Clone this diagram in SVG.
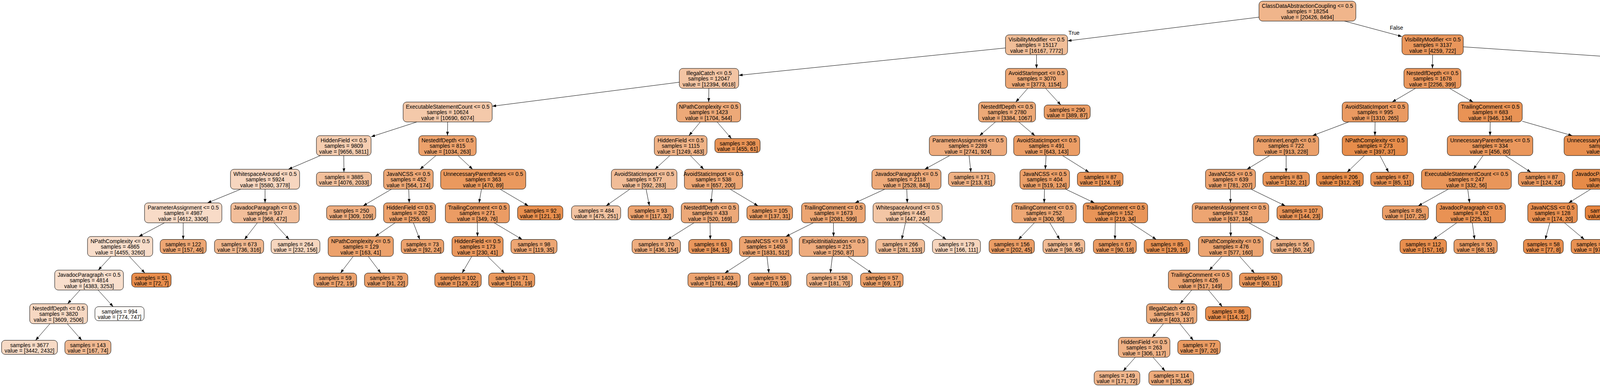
<svg xmlns="http://www.w3.org/2000/svg" width="6025" height="990" viewBox="0 0 6025 990">
<defs>
<marker id="arr" markerWidth="10" markerHeight="7" refX="10" refY="3.5" orient="auto" markerUnits="userSpaceOnUse"><path d="M0,0 L10,3.5 L0,7 z" fill="#000"/></marker>
</defs>
<style>
.nd rect{stroke:#000;stroke-width:1}
text{font-family:"Liberation Sans",Arial,Helvetica,sans-serif;font-size:14px;text-anchor:middle;fill:#000}
#edges line{stroke:#000;stroke-width:1;marker-end:url(#arr)}
</style>
<rect width="6025" height="990" fill="#fff"/>
<g id="edges">
<line x1="3223" y1="43.9" x2="2733" y2="104.6"/>
<line x1="3442" y1="54" x2="3589" y2="93.4"/>
<line x1="2574" y1="122.7" x2="1891" y2="192.7"/>
<line x1="2653.5" y1="140" x2="2653.5" y2="175"/>
<line x1="3667.5" y1="140" x2="3667" y2="175"/>
<line x1="3746" y1="119.8" x2="4827" y2="193.1"/>
<line x1="1739" y1="210.3" x2="1260" y2="271.8"/>
<line x1="1814.7" y1="226" x2="1814.3" y2="261"/>
<line x1="2631.1" y1="226" x2="2600.4" y2="261"/>
<line x1="2676.8" y1="226" x2="2715.6" y2="268.5"/>
<line x1="3623.6" y1="226" x2="3563.9" y2="261"/>
<line x1="3710.9" y1="226" x2="3771.1" y2="261"/>
<line x1="4936" y1="226" x2="4936" y2="261"/>
<line x1="5045" y1="218.5" x2="5367" y2="271.9"/>
<line x1="1067.1" y1="312" x2="950" y2="349.9"/>
<line x1="1146" y1="312" x2="1145.5" y2="347"/>
<line x1="1792.8" y1="312" x2="1763.7" y2="347"/>
<line x1="1835.9" y1="312" x2="1872.5" y2="354.5"/>
<line x1="2548.4" y1="312" x2="2507.7" y2="347"/>
<line x1="2608.1" y1="312" x2="2649.4" y2="347"/>
<line x1="3452.9" y1="312" x2="3360.1" y2="347"/>
<line x1="3520.2" y1="312" x2="3519.8" y2="347"/>
<line x1="3815" y1="312" x2="3814.5" y2="347"/>
<line x1="3897" y1="310.1" x2="4025" y2="347"/>
<line x1="4900.6" y1="312" x2="4851.9" y2="347"/>
<line x1="4971.4" y1="312" x2="5020.1" y2="347"/>
<line x1="5455.5" y1="312" x2="5455.5" y2="347"/>
<line x1="5531.1" y1="312" x2="5634.9" y2="347"/>
<line x1="820.3" y1="398" x2="738.2" y2="433"/>
<line x1="880" y1="398" x2="880.5" y2="440.5"/>
<line x1="1115.9" y1="398" x2="1075.2" y2="433"/>
<line x1="1172.6" y1="398" x2="1209.9" y2="433"/>
<line x1="1714.8" y1="398" x2="1676.7" y2="433"/>
<line x1="1767.4" y1="398" x2="1801.6" y2="433"/>
<line x1="2431.3" y1="398" x2="2367.2" y2="433"/>
<line x1="2480.8" y1="398" x2="2485.5" y2="440.5"/>
<line x1="2678" y1="398" x2="2676" y2="433"/>
<line x1="2720.1" y1="398" x2="2787.8" y2="440.5"/>
<line x1="3250.2" y1="398" x2="3192.3" y2="433"/>
<line x1="3292.5" y1="398" x2="3292.5" y2="440.5"/>
<line x1="3493" y1="398" x2="3448.7" y2="440.5"/>
<line x1="3532.7" y1="398" x2="3554.7" y2="440.5"/>
<line x1="3796.6" y1="398" x2="3771.9" y2="433"/>
<line x1="3853.6" y1="398" x2="3918.9" y2="440.5"/>
<line x1="4113.5" y1="398" x2="4113.5" y2="433"/>
<line x1="4171.5" y1="398" x2="4251" y2="433"/>
<line x1="4774.4" y1="398" x2="4716.6" y2="433"/>
<line x1="4822.4" y1="398" x2="4832.3" y2="440.5"/>
<line x1="5049.6" y1="398" x2="5041.4" y2="433"/>
<line x1="5104.7" y1="398" x2="5172.3" y2="433"/>
<line x1="5435.9" y1="398" x2="5403.3" y2="440.5"/>
<line x1="5484" y1="398" x2="5523" y2="433"/>
<line x1="5710.6" y1="398" x2="5711" y2="440.5"/>
<line x1="5752" y1="398" x2="5809" y2="433"/>
<line x1="616.4" y1="484" x2="531.1" y2="519"/>
<line x1="678.5" y1="484" x2="678.5" y2="519"/>
<line x1="1002.1" y1="484" x2="929.7" y2="526.5"/>
<line x1="1046.4" y1="484" x2="1047.6" y2="519"/>
<line x1="1232.6" y1="484" x2="1226.4" y2="519"/>
<line x1="1280.3" y1="484" x2="1352.4" y2="526.5"/>
<line x1="1612.5" y1="484" x2="1551.7" y2="526.5"/>
<line x1="1654" y1="484" x2="1662.4" y2="526.5"/>
<line x1="1823.8" y1="484" x2="1820.2" y2="519"/>
<line x1="1869.2" y1="484" x2="1940.4" y2="526.5"/>
<line x1="2265.1" y1="484" x2="2188.9" y2="519"/>
<line x1="2321.4" y1="484" x2="2322.6" y2="519"/>
<line x1="2673.9" y1="484" x2="2673.1" y2="519"/>
<line x1="2728.2" y1="484" x2="2801.8" y2="519"/>
<line x1="3150" y1="484" x2="3150" y2="519"/>
<line x1="3202.6" y1="484" x2="3290.3" y2="526.5"/>
<line x1="3707.7" y1="484" x2="3630.7" y2="526.5"/>
<line x1="3757.4" y1="484" x2="3762.1" y2="519"/>
<line x1="4072.3" y1="484" x2="4015.7" y2="519"/>
<line x1="4113.4" y1="484" x2="4113.1" y2="526.5"/>
<line x1="4290.8" y1="484" x2="4260.4" y2="526.5"/>
<line x1="4330.5" y1="484" x2="4366.3" y2="526.5"/>
<line x1="4643.7" y1="484" x2="4601.3" y2="519"/>
<line x1="4709.6" y1="484" x2="4757.9" y2="519"/>
<line x1="5013" y1="484" x2="4975.4" y2="526.5"/>
<line x1="5051.5" y1="484" x2="5078.2" y2="526.5"/>
<line x1="5219.7" y1="484" x2="5216.8" y2="526.5"/>
<line x1="5268.1" y1="484" x2="5331.9" y2="519"/>
<line x1="5551.4" y1="484" x2="5551.1" y2="519"/>
<line x1="5592.1" y1="484" x2="5659.8" y2="526.5"/>
<line x1="5844.6" y1="484" x2="5834.7" y2="526.5"/>
<line x1="5883.1" y1="484" x2="5937.5" y2="526.5"/>
<line x1="421.1" y1="570" x2="355.4" y2="605"/>
<line x1="469" y1="570" x2="469" y2="612.5"/>
<line x1="658.8" y1="570" x2="625.9" y2="612.5"/>
<line x1="701.6" y1="570" x2="740.2" y2="612.5"/>
<line x1="1011.4" y1="570" x2="960.6" y2="605"/>
<line x1="1058.3" y1="570" x2="1074.6" y2="612.5"/>
<line x1="1222.1" y1="570" x2="1222.4" y2="605"/>
<line x1="1265" y1="570" x2="1336.7" y2="612.5"/>
<line x1="1776.7" y1="570" x2="1708.8" y2="612.5"/>
<line x1="1817.8" y1="570" x2="1818.3" y2="612.5"/>
<line x1="2082.2" y1="570" x2="2011.8" y2="605"/>
<line x1="2133.6" y1="570" x2="2133.9" y2="605"/>
<line x1="2317.9" y1="570" x2="2308.5" y2="612.5"/>
<line x1="2360.6" y1="570" x2="2422.3" y2="612.5"/>
<line x1="2648" y1="570" x2="2607.3" y2="612.5"/>
<line x1="2687.6" y1="570" x2="2712.8" y2="612.5"/>
<line x1="2855.1" y1="570" x2="2854.3" y2="612.5"/>
<line x1="2894.6" y1="570" x2="2959.9" y2="612.5"/>
<line x1="3150.3" y1="570" x2="3150.7" y2="605"/>
<line x1="3197" y1="570" x2="3275.3" y2="612.5"/>
<line x1="3729.3" y1="570" x2="3669" y2="612.5"/>
<line x1="3769.1" y1="570" x2="3775" y2="612.5"/>
<line x1="3967.5" y1="570" x2="3955.9" y2="612.5"/>
<line x1="4005" y1="570" x2="4055.9" y2="612.5"/>
<line x1="4538.8" y1="570" x2="4485.9" y2="612.5"/>
<line x1="4577.2" y1="570" x2="4588.3" y2="612.5"/>
<line x1="4779.2" y1="570" x2="4756.2" y2="612.5"/>
<line x1="4818.8" y1="570" x2="4861.8" y2="612.5"/>
<line x1="5342" y1="570" x2="5281.2" y2="612.5"/>
<line x1="5381.8" y1="570" x2="5387.2" y2="612.5"/>
<line x1="5547.9" y1="570" x2="5542.7" y2="612.5"/>
<line x1="5587.6" y1="570" x2="5648.7" y2="612.5"/>
<line x1="283.9" y1="656" x2="251.6" y2="691"/>
<line x1="331.2" y1="656" x2="370.8" y2="698.5"/>
<line x1="904.1" y1="656" x2="871.7" y2="698.5"/>
<line x1="942.8" y1="656" x2="974.9" y2="698.5"/>
<line x1="1207.7" y1="656" x2="1183" y2="698.5"/>
<line x1="1248.4" y1="656" x2="1291.7" y2="698.5"/>
<line x1="1921.2" y1="656" x2="1855.7" y2="698.5"/>
<line x1="1963.5" y1="656" x2="1968.4" y2="698.5"/>
<line x1="2130.9" y1="656" x2="2125.7" y2="698.5"/>
<line x1="2170.6" y1="656" x2="2231.7" y2="698.5"/>
<line x1="3127.7" y1="656" x2="3095.8" y2="691"/>
<line x1="3173.7" y1="656" x2="3211.5" y2="698.5"/>
<line x1="204.9" y1="742" x2="173.1" y2="777"/>
<line x1="251.1" y1="742" x2="289.7" y2="784.5"/>
<line x1="3050.9" y1="742" x2="3021.1" y2="777"/>
<line x1="3093.7" y1="742" x2="3129" y2="784.5"/>
<line x1="127.9" y1="828" x2="91.1" y2="870.5"/>
<line x1="172.2" y1="828" x2="209.3" y2="870.5"/>
<line x1="2978.6" y1="828" x2="2949.9" y2="863"/>
<line x1="3020.3" y1="828" x2="3054.8" y2="870.5"/>
<line x1="2906.4" y1="914" x2="2875.4" y2="949"/>
<line x1="2951.6" y1="914" x2="2982.6" y2="949"/>
<text x="2749.5" y="89">True</text>
<text x="3575" y="76">False</text>
</g>
<g id="n0" class="nd" transform="translate(3347,28.5)"><rect x="-124" y="-25.5" width="248" height="51" rx="9" fill="#f0b58b"/><text><tspan x="0" y="-8.5">ClassDataAbstractionCoupling &lt;= 0.5</tspan><tspan x="0" y="5.8">samples = 18254</tspan><tspan x="0" y="20">value = [20426, 8494]</tspan></text></g>
<g id="n1" class="nd" transform="translate(2653.5,114.5)"><rect x="-79.5" y="-25.5" width="159" height="51" rx="9" fill="#f1be98"/><text><tspan x="0" y="-8.5">VisibilityModifier &lt;= 0.5</tspan><tspan x="0" y="5.8">samples = 15117</tspan><tspan x="0" y="20">value = [16167, 7772]</tspan></text></g>
<g id="n2" class="nd" transform="translate(3667.5,114.5)"><rect x="-78.5" y="-25.5" width="157" height="51" rx="9" fill="#e9965b"/><text><tspan x="0" y="-8.5">VisibilityModifier &lt;= 0.5</tspan><tspan x="0" y="5.8">samples = 3137</tspan><tspan x="0" y="20">value = [4259, 722]</tspan></text></g>
<g id="n3" class="nd" transform="translate(1815,200.5)"><rect x="-76" y="-25.5" width="152" height="51" rx="9" fill="#f3c4a3"/><text><tspan x="0" y="-8.5">IllegalCatch &lt;= 0.5</tspan><tspan x="0" y="5.8">samples = 12047</tspan><tspan x="0" y="20">value = [12394, 6618]</tspan></text></g>
<g id="n4" class="nd" transform="translate(2653.5,200.5)"><rect x="-79.5" y="-25.5" width="159" height="51" rx="9" fill="#eda876"/><text><tspan x="0" y="-8.5">AvoidStarImport &lt;= 0.5</tspan><tspan x="0" y="5.8">samples = 3070</tspan><tspan x="0" y="20">value = [3773, 1154]</tspan></text></g>
<g id="n5" class="nd" transform="translate(3667,200.5)"><rect x="-73" y="-25.5" width="146" height="51" rx="9" fill="#ea975c"/><text><tspan x="0" y="-8.5">NestedIfDepth &lt;= 0.5</tspan><tspan x="0" y="5.8">samples = 1678</tspan><tspan x="0" y="20">value = [2256, 399]</tspan></text></g>
<g id="n6" class="nd" transform="translate(4936,200.5)"><rect x="-109" y="-25.5" width="218" height="51" rx="9" fill="#e99559"/><text><tspan x="0" y="-8.5">UnnecessaryParentheses &lt;= 0.5</tspan><tspan x="0" y="5.8">samples = 1459</tspan><tspan x="0" y="20">value = [2003, 323]</tspan></text></g>
<g id="n7" class="nd" transform="translate(1146,286.5)"><rect x="-114" y="-25.5" width="228" height="51" rx="9" fill="#f4c9aa"/><text><tspan x="0" y="-8.5">ExecutableStatementCount &lt;= 0.5</tspan><tspan x="0" y="5.8">samples = 10624</tspan><tspan x="0" y="20">value = [10690, 6074]</tspan></text></g>
<g id="n8" class="nd" transform="translate(1814,286.5)"><rect x="-82" y="-25.5" width="164" height="51" rx="9" fill="#eda978"/><text><tspan x="0" y="-8.5">NPathComplexity &lt;= 0.5</tspan><tspan x="0" y="5.8">samples = 1423</tspan><tspan x="0" y="20">value = [1704, 544]</tspan></text></g>
<g id="n9" class="nd" transform="translate(2578,286.5)"><rect x="-73" y="-25.5" width="146" height="51" rx="9" fill="#eda977"/><text><tspan x="0" y="-8.5">NestedIfDepth &lt;= 0.5</tspan><tspan x="0" y="5.8">samples = 2780</tspan><tspan x="0" y="20">value = [3384, 1067]</tspan></text></g>
<g id="n10" class="nd" transform="translate(2732,286.5)"><rect x="-59" y="-18" width="118" height="36" rx="9" fill="#eb9d65"/><text><tspan x="0" y="-1">samples = 290</tspan><tspan x="0" y="13">value = [389, 87]</tspan></text></g>
<g id="n11" class="nd" transform="translate(3520.5,286.5)"><rect x="-84.5" y="-25.5" width="169" height="51" rx="9" fill="#ea9a61"/><text><tspan x="0" y="-8.5">AvoidStaticImport &lt;= 0.5</tspan><tspan x="0" y="5.8">samples = 995</tspan><tspan x="0" y="20">value = [1310, 265]</tspan></text></g>
<g id="n12" class="nd" transform="translate(3815,286.5)"><rect x="-82" y="-25.5" width="164" height="51" rx="9" fill="#e99355"/><text><tspan x="0" y="-8.5">TrailingComment &lt;= 0.5</tspan><tspan x="0" y="5.8">samples = 683</tspan><tspan x="0" y="20">value = [946, 134]</tspan></text></g>
<g id="n13" class="nd" transform="translate(4936,286.5)"><rect x="-68" y="-25.5" width="136" height="51" rx="9" fill="#ea985e"/><text><tspan x="0" y="-8.5">JavaNCSS &lt;= 0.5</tspan><tspan x="0" y="5.8">samples = 936</tspan><tspan x="0" y="20">value = [1271, 236]</tspan></text></g>
<g id="n14" class="nd" transform="translate(5455.5,286.5)"><rect x="-88.5" y="-25.5" width="177" height="51" rx="9" fill="#e89051"/><text><tspan x="0" y="-8.5">JavadocParagraph &lt;= 0.5</tspan><tspan x="0" y="5.8">samples = 523</tspan><tspan x="0" y="20">value = [732, 87]</tspan></text></g>
<g id="n15" class="nd" transform="translate(880,372.5)"><rect x="-70" y="-25.5" width="140" height="51" rx="9" fill="#f5cdb0"/><text><tspan x="0" y="-8.5">HiddenField &lt;= 0.5</tspan><tspan x="0" y="5.8">samples = 9809</tspan><tspan x="0" y="20">value = [9656, 5811]</tspan></text></g>
<g id="n16" class="nd" transform="translate(1145.5,372.5)"><rect x="-73.5" y="-25.5" width="147" height="51" rx="9" fill="#eca16b"/><text><tspan x="0" y="-8.5">NestedIfDepth &lt;= 0.5</tspan><tspan x="0" y="5.8">samples = 815</tspan><tspan x="0" y="20">value = [1034, 263]</tspan></text></g>
<g id="n17" class="nd" transform="translate(1742.5,372.5)"><rect x="-67.5" y="-25.5" width="135" height="51" rx="9" fill="#efb286"/><text><tspan x="0" y="-8.5">HiddenField &lt;= 0.5</tspan><tspan x="0" y="5.8">samples = 1115</tspan><tspan x="0" y="20">value = [1249, 483]</tspan></text></g>
<g id="n18" class="nd" transform="translate(1888,372.5)"><rect x="-58" y="-18" width="116" height="36" rx="9" fill="#e89254"/><text><tspan x="0" y="-1">samples = 308</tspan><tspan x="0" y="13">value = [455, 61]</tspan></text></g>
<g id="n19" class="nd" transform="translate(2478,372.5)"><rect x="-99" y="-25.5" width="198" height="51" rx="9" fill="#eeab7c"/><text><tspan x="0" y="-8.5">ParameterAssignment &lt;= 0.5</tspan><tspan x="0" y="5.8">samples = 2289</tspan><tspan x="0" y="20">value = [2741, 924]</tspan></text></g>
<g id="n20" class="nd" transform="translate(2679.5,372.5)"><rect x="-84.5" y="-25.5" width="169" height="51" rx="9" fill="#eb9d65"/><text><tspan x="0" y="-8.5">AvoidStaticImport &lt;= 0.5</tspan><tspan x="0" y="5.8">samples = 491</tspan><tspan x="0" y="20">value = [643, 143]</tspan></text></g>
<g id="n21" class="nd" transform="translate(3292.5,372.5)"><rect x="-83.5" y="-25.5" width="167" height="51" rx="9" fill="#eba06a"/><text><tspan x="0" y="-8.5">AnonInnerLength &lt;= 0.5</tspan><tspan x="0" y="5.8">samples = 722</tspan><tspan x="0" y="20">value = [913, 228]</tspan></text></g>
<g id="n22" class="nd" transform="translate(3519.5,372.5)"><rect x="-83.5" y="-25.5" width="167" height="51" rx="9" fill="#e78d4b"/><text><tspan x="0" y="-8.5">NPathComplexity &lt;= 0.5</tspan><tspan x="0" y="5.8">samples = 273</tspan><tspan x="0" y="20">value = [397, 37]</tspan></text></g>
<g id="n23" class="nd" transform="translate(3814.5,372.5)"><rect x="-109.5" y="-25.5" width="219" height="51" rx="9" fill="#ea975c"/><text><tspan x="0" y="-8.5">UnnecessaryParentheses &lt;= 0.5</tspan><tspan x="0" y="5.8">samples = 334</tspan><tspan x="0" y="20">value = [456, 80]</tspan></text></g>
<g id="n24" class="nd" transform="translate(4113.5,372.5)"><rect x="-109.5" y="-25.5" width="219" height="51" rx="9" fill="#e88f4f"/><text><tspan x="0" y="-8.5">UnnecessaryParentheses &lt;= 0.5</tspan><tspan x="0" y="5.8">samples = 349</tspan><tspan x="0" y="20">value = [490, 54]</tspan></text></g>
<g id="n25" class="nd" transform="translate(4816.5,372.5)"><rect x="-137.5" y="-25.5" width="275" height="51" rx="9" fill="#eb9e66"/><text><tspan x="0" y="-8.5">VariableDeclarationUsageDistance &lt;= 0.5</tspan><tspan x="0" y="5.8">samples = 512</tspan><tspan x="0" y="20">value = [679, 156]</tspan></text></g>
<g id="n26" class="nd" transform="translate(5055.5,372.5)"><rect x="-82.5" y="-25.5" width="165" height="51" rx="9" fill="#e99254"/><text><tspan x="0" y="-8.5">TrailingComment &lt;= 0.5</tspan><tspan x="0" y="5.8">samples = 424</tspan><tspan x="0" y="20">value = [592, 80]</tspan></text></g>
<g id="n27" class="nd" transform="translate(5455.5,372.5)"><rect x="-82.5" y="-25.5" width="165" height="51" rx="9" fill="#e99558"/><text><tspan x="0" y="-8.5">TrailingComment &lt;= 0.5</tspan><tspan x="0" y="5.8">samples = 294</tspan><tspan x="0" y="20">value = [392, 61]</tspan></text></g>
<g id="n28" class="nd" transform="translate(5710.5,372.5)"><rect x="-88.5" y="-25.5" width="177" height="51" rx="9" fill="#e78b48"/><text><tspan x="0" y="-8.5">WhitespaceAround &lt;= 0.5</tspan><tspan x="0" y="5.8">samples = 229</tspan><tspan x="0" y="20">value = [340, 26]</tspan></text></g>
<g id="n29" class="nd" transform="translate(678.5,458.5)"><rect x="-88.5" y="-25.5" width="177" height="51" rx="9" fill="#f7d6bf"/><text><tspan x="0" y="-8.5">WhitespaceAround &lt;= 0.5</tspan><tspan x="0" y="5.8">samples = 5924</tspan><tspan x="0" y="20">value = [5580, 3778]</tspan></text></g>
<g id="n30" class="nd" transform="translate(880.5,458.5)"><rect x="-70.5" y="-18" width="141" height="36" rx="9" fill="#f2c09c"/><text><tspan x="0" y="-1">samples = 3885</tspan><tspan x="0" y="13">value = [4076, 2033]</tspan></text></g>
<g id="n31" class="nd" transform="translate(1045.5,458.5)"><rect x="-63.5" y="-25.5" width="127" height="51" rx="9" fill="#eda876"/><text><tspan x="0" y="-8.5">JavaNCSS &lt;= 0.5</tspan><tspan x="0" y="5.8">samples = 452</tspan><tspan x="0" y="20">value = [564, 174]</tspan></text></g>
<g id="n32" class="nd" transform="translate(1237,458.5)"><rect x="-109" y="-25.5" width="218" height="51" rx="9" fill="#ea995e"/><text><tspan x="0" y="-8.5">UnnecessaryParentheses &lt;= 0.5</tspan><tspan x="0" y="5.8">samples = 363</tspan><tspan x="0" y="20">value = [470, 89]</tspan></text></g>
<g id="n33" class="nd" transform="translate(1649,458.5)"><rect x="-84" y="-25.5" width="168" height="51" rx="9" fill="#f1bd98"/><text><tspan x="0" y="-8.5">AvoidStaticImport &lt;= 0.5</tspan><tspan x="0" y="5.8">samples = 577</tspan><tspan x="0" y="20">value = [592, 283]</tspan></text></g>
<g id="n34" class="nd" transform="translate(1826.5,458.5)"><rect x="-74.5" y="-25.5" width="149" height="51" rx="9" fill="#eda775"/><text><tspan x="0" y="-8.5">AvoidStaticImport &lt;= 0.5</tspan><tspan x="0" y="5.8">samples = 538</tspan><tspan x="0" y="20">value = [657, 200]</tspan></text></g>
<g id="n35" class="nd" transform="translate(2320.5,458.5)"><rect x="-88.5" y="-25.5" width="177" height="51" rx="9" fill="#eeab7b"/><text><tspan x="0" y="-8.5">JavadocParagraph &lt;= 0.5</tspan><tspan x="0" y="5.8">samples = 2118</tspan><tspan x="0" y="20">value = [2528, 843]</tspan></text></g>
<g id="n36" class="nd" transform="translate(2487.5,458.5)"><rect x="-59.5" y="-18" width="119" height="36" rx="9" fill="#efb184"/><text><tspan x="0" y="-1">samples = 171</tspan><tspan x="0" y="13">value = [213, 81]</tspan></text></g>
<g id="n37" class="nd" transform="translate(2674.5,458.5)"><rect x="-63.5" y="-25.5" width="127" height="51" rx="9" fill="#eb9f68"/><text><tspan x="0" y="-8.5">JavaNCSS &lt;= 0.5</tspan><tspan x="0" y="5.8">samples = 404</tspan><tspan x="0" y="20">value = [519, 124]</tspan></text></g>
<g id="n38" class="nd" transform="translate(2816.5,458.5)"><rect x="-58.5" y="-18" width="117" height="36" rx="9" fill="#e99457"/><text><tspan x="0" y="-1">samples = 87</tspan><tspan x="0" y="13">value = [124, 19]</tspan></text></g>
<g id="n39" class="nd" transform="translate(3150,458.5)"><rect x="-64" y="-25.5" width="128" height="51" rx="9" fill="#eca26e"/><text><tspan x="0" y="-8.5">JavaNCSS &lt;= 0.5</tspan><tspan x="0" y="5.8">samples = 639</tspan><tspan x="0" y="20">value = [781, 207]</tspan></text></g>
<g id="n40" class="nd" transform="translate(3292.5,458.5)"><rect x="-59.5" y="-18" width="119" height="36" rx="9" fill="#e99558"/><text><tspan x="0" y="-1">samples = 83</tspan><tspan x="0" y="13">value = [132, 21]</tspan></text></g>
<g id="n41" class="nd" transform="translate(3430,458.5)"><rect x="-60" y="-18" width="120" height="36" rx="9" fill="#e78c49"/><text><tspan x="0" y="-1">samples = 206</tspan><tspan x="0" y="13">value = [312, 26]</tspan></text></g>
<g id="n42" class="nd" transform="translate(3564,458.5)"><rect x="-55" y="-18" width="110" height="36" rx="9" fill="#e89153"/><text><tspan x="0" y="-1">samples = 67</tspan><tspan x="0" y="13">value = [85, 11]</tspan></text></g>
<g id="n43" class="nd" transform="translate(3754,458.5)"><rect x="-115" y="-25.5" width="230" height="51" rx="9" fill="#e9965a"/><text><tspan x="0" y="-8.5">ExecutableStatementCount &lt;= 0.5</tspan><tspan x="0" y="5.8">samples = 247</tspan><tspan x="0" y="20">value = [332, 56]</tspan></text></g>
<g id="n44" class="nd" transform="translate(3946.5,458.5)"><rect x="-59.5" y="-18" width="119" height="36" rx="9" fill="#ea995f"/><text><tspan x="0" y="-1">samples = 87</tspan><tspan x="0" y="13">value = [124, 24]</tspan></text></g>
<g id="n45" class="nd" transform="translate(4113.5,458.5)"><rect x="-88.5" y="-25.5" width="177" height="51" rx="9" fill="#e78b48"/><text><tspan x="0" y="-8.5">JavadocParagraph &lt;= 0.5</tspan><tspan x="0" y="5.8">samples = 208</tspan><tspan x="0" y="20">value = [299, 23]</tspan></text></g>
<g id="n46" class="nd" transform="translate(4309,458.5)"><rect x="-88" y="-25.5" width="176" height="51" rx="9" fill="#e99559"/><text><tspan x="0" y="-8.5">JavadocParagraph &lt;= 0.5</tspan><tspan x="0" y="5.8">samples = 141</tspan><tspan x="0" y="20">value = [191, 31]</tspan></text></g>
<g id="n47" class="nd" transform="translate(4674.5,458.5)"><rect x="-82.5" y="-25.5" width="165" height="51" rx="9" fill="#ea9b62"/><text><tspan x="0" y="-8.5">TrailingComment &lt;= 0.5</tspan><tspan x="0" y="5.8">samples = 410</tspan><tspan x="0" y="20">value = [549, 113]</tspan></text></g>
<g id="n48" class="nd" transform="translate(4836.5,458.5)"><rect x="-59.5" y="-18" width="119" height="36" rx="9" fill="#eeab7a"/><text><tspan x="0" y="-1">samples = 102</tspan><tspan x="0" y="13">value = [130, 43]</tspan></text></g>
<g id="n49" class="nd" transform="translate(5035.5,458.5)"><rect x="-84.5" y="-25.5" width="169" height="51" rx="9" fill="#e99457"/><text><tspan x="0" y="-8.5">AvoidStaticImport &lt;= 0.5</tspan><tspan x="0" y="5.8">samples = 191</tspan><tspan x="0" y="20">value = [258, 39]</tspan></text></g>
<g id="n50" class="nd" transform="translate(5221.5,458.5)"><rect x="-83.5" y="-25.5" width="167" height="51" rx="9" fill="#e89051"/><text><tspan x="0" y="-8.5">NPathComplexity &lt;= 0.5</tspan><tspan x="0" y="5.8">samples = 233</tspan><tspan x="0" y="20">value = [334, 41]</tspan></text></g>
<g id="n51" class="nd" transform="translate(5389.5,458.5)"><rect x="-59.5" y="-18" width="119" height="36" rx="9" fill="#eb9e67"/><text><tspan x="0" y="-1">samples = 96</tspan><tspan x="0" y="13">value = [120, 28]</tspan></text></g>
<g id="n52" class="nd" transform="translate(5551.5,458.5)"><rect x="-84.5" y="-25.5" width="169" height="51" rx="9" fill="#e89051"/><text><tspan x="0" y="-8.5">AvoidStaticImport &lt;= 0.5</tspan><tspan x="0" y="5.8">samples = 198</tspan><tspan x="0" y="20">value = [272, 33]</tspan></text></g>
<g id="n53" class="nd" transform="translate(5711,458.5)"><rect x="-56" y="-18" width="112" height="36" rx="9" fill="#e68641"/><text><tspan x="0" y="-1">samples = 69</tspan><tspan x="0" y="13">value = [103, 4]</tspan></text></g>
<g id="n54" class="nd" transform="translate(5850.5,458.5)"><rect x="-66.5" y="-25.5" width="133" height="51" rx="9" fill="#e78d4b"/><text><tspan x="0" y="-8.5">IllegalCatch &lt;= 0.5</tspan><tspan x="0" y="5.8">samples = 160</tspan><tspan x="0" y="20">value = [237, 22]</tspan></text></g>
<g id="n55" class="nd" transform="translate(469,544.5)"><rect x="-99" y="-25.5" width="198" height="51" rx="9" fill="#f8dbc7"/><text><tspan x="0" y="-8.5">ParameterAssignment &lt;= 0.5</tspan><tspan x="0" y="5.8">samples = 4987</tspan><tspan x="0" y="20">value = [4612, 3306]</tspan></text></g>
<g id="n56" class="nd" transform="translate(678.5,544.5)"><rect x="-87.5" y="-25.5" width="175" height="51" rx="9" fill="#f2be9a"/><text><tspan x="0" y="-8.5">JavadocParagraph &lt;= 0.5</tspan><tspan x="0" y="5.8">samples = 937</tspan><tspan x="0" y="20">value = [968, 472]</tspan></text></g>
<g id="n57" class="nd" transform="translate(899,544.5)"><rect x="-63" y="-18" width="126" height="36" rx="9" fill="#eead7f"/><text><tspan x="0" y="-1">samples = 250</tspan><tspan x="0" y="13">value = [309, 109]</tspan></text></g>
<g id="n58" class="nd" transform="translate(1048.5,544.5)"><rect x="-66.5" y="-25.5" width="133" height="51" rx="9" fill="#eca16b"/><text><tspan x="0" y="-8.5">HiddenField &lt;= 0.5</tspan><tspan x="0" y="5.8">samples = 202</tspan><tspan x="0" y="20">value = [255, 65]</tspan></text></g>
<g id="n59" class="nd" transform="translate(1222,544.5)"><rect x="-82" y="-25.5" width="164" height="51" rx="9" fill="#eb9c64"/><text><tspan x="0" y="-8.5">TrailingComment &lt;= 0.5</tspan><tspan x="0" y="5.8">samples = 271</tspan><tspan x="0" y="20">value = [349, 76]</tspan></text></g>
<g id="n60" class="nd" transform="translate(1383,544.5)"><rect x="-58" y="-18" width="116" height="36" rx="9" fill="#e88f4e"/><text><tspan x="0" y="-1">samples = 92</tspan><tspan x="0" y="13">value = [121, 13]</tspan></text></g>
<g id="n61" class="nd" transform="translate(1526,544.5)"><rect x="-63" y="-18" width="126" height="36" rx="9" fill="#f3c4a2"/><text><tspan x="0" y="-1">samples = 484</tspan><tspan x="0" y="13">value = [475, 251]</tspan></text></g>
<g id="n62" class="nd" transform="translate(1666,544.5)"><rect x="-58" y="-18" width="116" height="36" rx="9" fill="#eca36f"/><text><tspan x="0" y="-1">samples = 93</tspan><tspan x="0" y="13">value = [117, 32]</tspan></text></g>
<g id="n63" class="nd" transform="translate(1817.5,544.5)"><rect x="-73.5" y="-25.5" width="147" height="51" rx="9" fill="#eda979"/><text><tspan x="0" y="-8.5">NestedIfDepth &lt;= 0.5</tspan><tspan x="0" y="5.8">samples = 433</tspan><tspan x="0" y="20">value = [520, 169]</tspan></text></g>
<g id="n64" class="nd" transform="translate(1970.5,544.5)"><rect x="-58.5" y="-18" width="117" height="36" rx="9" fill="#eb9e66"/><text><tspan x="0" y="-1">samples = 105</tspan><tspan x="0" y="13">value = [137, 31]</tspan></text></g>
<g id="n65" class="nd" transform="translate(2133.5,544.5)"><rect x="-81.5" y="-25.5" width="163" height="51" rx="9" fill="#eca572"/><text><tspan x="0" y="-8.5">TrailingComment &lt;= 0.5</tspan><tspan x="0" y="5.8">samples = 1673</tspan><tspan x="0" y="20">value = [2081, 599]</tspan></text></g>
<g id="n66" class="nd" transform="translate(2323.5,544.5)"><rect x="-88.5" y="-25.5" width="177" height="51" rx="9" fill="#f3c6a5"/><text><tspan x="0" y="-8.5">WhitespaceAround &lt;= 0.5</tspan><tspan x="0" y="5.8">samples = 445</tspan><tspan x="0" y="20">value = [447, 244]</tspan></text></g>
<g id="n67" class="nd" transform="translate(2672.5,544.5)"><rect x="-82.5" y="-25.5" width="165" height="51" rx="9" fill="#eda774"/><text><tspan x="0" y="-8.5">TrailingComment &lt;= 0.5</tspan><tspan x="0" y="5.8">samples = 252</tspan><tspan x="0" y="20">value = [300, 90]</tspan></text></g>
<g id="n68" class="nd" transform="translate(2855.5,544.5)"><rect x="-82.5" y="-25.5" width="165" height="51" rx="9" fill="#e99558"/><text><tspan x="0" y="-8.5">TrailingComment &lt;= 0.5</tspan><tspan x="0" y="5.8">samples = 152</tspan><tspan x="0" y="20">value = [219, 34]</tspan></text></g>
<g id="n69" class="nd" transform="translate(3150,544.5)"><rect x="-98" y="-25.5" width="196" height="51" rx="9" fill="#eda572"/><text><tspan x="0" y="-8.5">ParameterAssignment &lt;= 0.5</tspan><tspan x="0" y="5.8">samples = 532</tspan><tspan x="0" y="20">value = [637, 184]</tspan></text></g>
<g id="n70" class="nd" transform="translate(3327.5,544.5)"><rect x="-58.5" y="-18" width="117" height="36" rx="9" fill="#e99559"/><text><tspan x="0" y="-1">samples = 107</tspan><tspan x="0" y="13">value = [144, 23]</tspan></text></g>
<g id="n71" class="nd" transform="translate(3598,544.5)"><rect x="-59" y="-18" width="118" height="36" rx="9" fill="#eb9e67"/><text><tspan x="0" y="-1">samples = 85</tspan><tspan x="0" y="13">value = [107, 25]</tspan></text></g>
<g id="n72" class="nd" transform="translate(3765.5,544.5)"><rect x="-88.5" y="-25.5" width="177" height="51" rx="9" fill="#e99254"/><text><tspan x="0" y="-8.5">JavadocParagraph &lt;= 0.5</tspan><tspan x="0" y="5.8">samples = 162</tspan><tspan x="0" y="20">value = [225, 31]</tspan></text></g>
<g id="n73" class="nd" transform="translate(3974.5,544.5)"><rect x="-63.5" y="-25.5" width="127" height="51" rx="9" fill="#e88f50"/><text><tspan x="0" y="-8.5">JavaNCSS &lt;= 0.5</tspan><tspan x="0" y="5.8">samples = 128</tspan><tspan x="0" y="20">value = [174, 20]</tspan></text></g>
<g id="n74" class="nd" transform="translate(4113,544.5)"><rect x="-55" y="-18" width="110" height="36" rx="9" fill="#e6843e"/><text><tspan x="0" y="-1">samples = 80</tspan><tspan x="0" y="13">value = [125, 3]</tspan></text></g>
<g id="n75" class="nd" transform="translate(4247.5,544.5)"><rect x="-58.5" y="-18" width="117" height="36" rx="9" fill="#ea9b61"/><text><tspan x="0" y="-1">samples = 76</tspan><tspan x="0" y="13">value = [103, 21]</tspan></text></g>
<g id="n76" class="nd" transform="translate(4381.5,544.5)"><rect x="-56.5" y="-18" width="113" height="36" rx="9" fill="#e88f50"/><text><tspan x="0" y="-1">samples = 65</tspan><tspan x="0" y="13">value = [88, 10]</tspan></text></g>
<g id="n77" class="nd" transform="translate(4570.5,544.5)"><rect x="-114.5" y="-25.5" width="229" height="51" rx="9" fill="#ea9c63"/><text><tspan x="0" y="-8.5">ExecutableStatementCount &lt;= 0.5</tspan><tspan x="0" y="5.8">samples = 253</tspan><tspan x="0" y="20">value = [342, 72]</tspan></text></g>
<g id="n78" class="nd" transform="translate(4793,544.5)"><rect x="-89" y="-25.5" width="178" height="51" rx="9" fill="#ea9a60"/><text><tspan x="0" y="-8.5">JavadocParagraph &lt;= 0.5</tspan><tspan x="0" y="5.8">samples = 157</tspan><tspan x="0" y="20">value = [207, 41]</tspan></text></g>
<g id="n79" class="nd" transform="translate(4959.5,544.5)"><rect x="-59.5" y="-18" width="119" height="36" rx="9" fill="#ea9a61"/><text><tspan x="0" y="-1">samples = 116</tspan><tspan x="0" y="13">value = [160, 32]</tspan></text></g>
<g id="n80" class="nd" transform="translate(5089.5,544.5)"><rect x="-52.5" y="-18" width="105" height="36" rx="9" fill="#e78a47"/><text><tspan x="0" y="-1">samples = 75</tspan><tspan x="0" y="13">value = [98, 7]</tspan></text></g>
<g id="n81" class="nd" transform="translate(5215.5,544.5)"><rect x="-55.5" y="-18" width="111" height="36" rx="9" fill="#eb9e66"/><text><tspan x="0" y="-1">samples = 54</tspan><tspan x="0" y="13">value = [74, 17]</tspan></text></g>
<g id="n82" class="nd" transform="translate(5378.5,544.5)"><rect x="-88.5" y="-25.5" width="177" height="51" rx="9" fill="#e78d4b"/><text><tspan x="0" y="-8.5">JavadocParagraph &lt;= 0.5</tspan><tspan x="0" y="5.8">samples = 179</tspan><tspan x="0" y="20">value = [260, 24]</tspan></text></g>
<g id="n83" class="nd" transform="translate(5551,544.5)"><rect x="-66" y="-25.5" width="132" height="51" rx="9" fill="#e99457"/><text><tspan x="0" y="-8.5">IllegalCatch &lt;= 0.5</tspan><tspan x="0" y="5.8">samples = 148</tspan><tspan x="0" y="20">value = [196, 30]</tspan></text></g>
<g id="n84" class="nd" transform="translate(5688.5,544.5)"><rect x="-51.5" y="-18" width="103" height="36" rx="9" fill="#e68641"/><text><tspan x="0" y="-1">samples = 50</tspan><tspan x="0" y="13">value = [76, 3]</tspan></text></g>
<g id="n85" class="nd" transform="translate(5830.5,544.5)"><rect x="-52.5" y="-18" width="105" height="36" rx="9" fill="#e68743"/><text><tspan x="0" y="-1">samples = 61</tspan><tspan x="0" y="13">value = [99, 5]</tspan></text></g>
<g id="n86" class="nd" transform="translate(5960.5,544.5)"><rect x="-59.5" y="-18" width="119" height="36" rx="9" fill="#e89151"/><text><tspan x="0" y="-1">samples = 99</tspan><tspan x="0" y="13">value = [138, 17]</tspan></text></g>
<g id="n87" class="nd" transform="translate(307.5,630.5)"><rect x="-83.5" y="-25.5" width="167" height="51" rx="9" fill="#f8ddca"/><text><tspan x="0" y="-8.5">NPathComplexity &lt;= 0.5</tspan><tspan x="0" y="5.8">samples = 4865</tspan><tspan x="0" y="20">value = [4455, 3260]</tspan></text></g>
<g id="n88" class="nd" transform="translate(469,630.5)"><rect x="-59" y="-18" width="118" height="36" rx="9" fill="#eda673"/><text><tspan x="0" y="-1">samples = 122</tspan><tspan x="0" y="13">value = [157, 46]</tspan></text></g>
<g id="n89" class="nd" transform="translate(612,630.5)"><rect x="-63" y="-18" width="126" height="36" rx="9" fill="#f0b78e"/><text><tspan x="0" y="-1">samples = 673</tspan><tspan x="0" y="13">value = [736, 316]</tspan></text></g>
<g id="n90" class="nd" transform="translate(756.5,630.5)"><rect x="-62.5" y="-18" width="125" height="36" rx="9" fill="#f6d6be"/><text><tspan x="0" y="-1">samples = 264</tspan><tspan x="0" y="13">value = [232, 156]</tspan></text></g>
<g id="n91" class="nd" transform="translate(923.5,630.5)"><rect x="-83.5" y="-25.5" width="167" height="51" rx="9" fill="#eca16b"/><text><tspan x="0" y="-8.5">NPathComplexity &lt;= 0.5</tspan><tspan x="0" y="5.8">samples = 129</tspan><tspan x="0" y="20">value = [163, 41]</tspan></text></g>
<g id="n92" class="nd" transform="translate(1081.5,630.5)"><rect x="-54.5" y="-18" width="109" height="36" rx="9" fill="#eca26d"/><text><tspan x="0" y="-1">samples = 73</tspan><tspan x="0" y="13">value = [92, 24]</tspan></text></g>
<g id="n93" class="nd" transform="translate(1222.5,630.5)"><rect x="-65.5" y="-25.5" width="131" height="51" rx="9" fill="#ea975c"/><text><tspan x="0" y="-8.5">HiddenField &lt;= 0.5</tspan><tspan x="0" y="5.8">samples = 173</tspan><tspan x="0" y="20">value = [230, 41]</tspan></text></g>
<g id="n94" class="nd" transform="translate(1367,630.5)"><rect x="-59" y="-18" width="118" height="36" rx="9" fill="#eda673"/><text><tspan x="0" y="-1">samples = 98</tspan><tspan x="0" y="13">value = [119, 35]</tspan></text></g>
<g id="n95" class="nd" transform="translate(1680,630.5)"><rect x="-62" y="-18" width="124" height="36" rx="9" fill="#eead7f"/><text><tspan x="0" y="-1">samples = 370</tspan><tspan x="0" y="13">value = [436, 154]</tspan></text></g>
<g id="n96" class="nd" transform="translate(1818.5,630.5)"><rect x="-55.5" y="-18" width="111" height="36" rx="9" fill="#ea975c"/><text><tspan x="0" y="-1">samples = 63</tspan><tspan x="0" y="13">value = [84, 15]</tspan></text></g>
<g id="n97" class="nd" transform="translate(1960.5,630.5)"><rect x="-67.5" y="-25.5" width="135" height="51" rx="9" fill="#eca470"/><text><tspan x="0" y="-8.5">JavaNCSS &lt;= 0.5</tspan><tspan x="0" y="5.8">samples = 1458</tspan><tspan x="0" y="20">value = [1831, 512]</tspan></text></g>
<g id="n98" class="nd" transform="translate(2134,630.5)"><rect x="-88" y="-25.5" width="176" height="51" rx="9" fill="#eeac7e"/><text><tspan x="0" y="-8.5">ExplicitInitialization &lt;= 0.5</tspan><tspan x="0" y="5.8">samples = 215</tspan><tspan x="0" y="20">value = [250, 87]</tspan></text></g>
<g id="n99" class="nd" transform="translate(2304.5,630.5)"><rect x="-62.5" y="-18" width="125" height="36" rx="9" fill="#f1bd97"/><text><tspan x="0" y="-1">samples = 266</tspan><tspan x="0" y="13">value = [281, 133]</tspan></text></g>
<g id="n100" class="nd" transform="translate(2448.5,630.5)"><rect x="-61.5" y="-18" width="123" height="36" rx="9" fill="#f6d5bd"/><text><tspan x="0" y="-1">samples = 179</tspan><tspan x="0" y="13">value = [166, 111]</tspan></text></g>
<g id="n101" class="nd" transform="translate(2590,630.5)"><rect x="-58" y="-18" width="116" height="36" rx="9" fill="#eb9d65"/><text><tspan x="0" y="-1">samples = 156</tspan><tspan x="0" y="13">value = [202, 45]</tspan></text></g>
<g id="n102" class="nd" transform="translate(2723.5,630.5)"><rect x="-53.5" y="-18" width="107" height="36" rx="9" fill="#f1bb94"/><text><tspan x="0" y="-1">samples = 96</tspan><tspan x="0" y="13">value = [98, 45]</tspan></text></g>
<g id="n103" class="nd" transform="translate(2854,630.5)"><rect x="-55" y="-18" width="110" height="36" rx="9" fill="#ea9a61"/><text><tspan x="0" y="-1">samples = 67</tspan><tspan x="0" y="13">value = [90, 18]</tspan></text></g>
<g id="n104" class="nd" transform="translate(2987.5,630.5)"><rect x="-58.5" y="-18" width="117" height="36" rx="9" fill="#e89152"/><text><tspan x="0" y="-1">samples = 85</tspan><tspan x="0" y="13">value = [129, 16]</tspan></text></g>
<g id="n105" class="nd" transform="translate(3151,630.5)"><rect x="-83" y="-25.5" width="166" height="51" rx="9" fill="#eca470"/><text><tspan x="0" y="-8.5">NPathComplexity &lt;= 0.5</tspan><tspan x="0" y="5.8">samples = 476</tspan><tspan x="0" y="20">value = [577, 160]</tspan></text></g>
<g id="n106" class="nd" transform="translate(3308.5,630.5)"><rect x="-55.5" y="-18" width="111" height="36" rx="9" fill="#efb388"/><text><tspan x="0" y="-1">samples = 56</tspan><tspan x="0" y="13">value = [60, 24]</tspan></text></g>
<g id="n107" class="nd" transform="translate(3643.5,630.5)"><rect x="-59.5" y="-18" width="119" height="36" rx="9" fill="#e88e4d"/><text><tspan x="0" y="-1">samples = 112</tspan><tspan x="0" y="13">value = [157, 16]</tspan></text></g>
<g id="n108" class="nd" transform="translate(3777.5,630.5)"><rect x="-55.5" y="-18" width="111" height="36" rx="9" fill="#eb9d65"/><text><tspan x="0" y="-1">samples = 50</tspan><tspan x="0" y="13">value = [68, 15]</tspan></text></g>
<g id="n109" class="nd" transform="translate(3951,630.5)"><rect x="-51" y="-18" width="102" height="36" rx="9" fill="#e88e4e"/><text><tspan x="0" y="-1">samples = 58</tspan><tspan x="0" y="13">value = [77, 8]</tspan></text></g>
<g id="n110" class="nd" transform="translate(4077.5,630.5)"><rect x="-55.5" y="-18" width="111" height="36" rx="9" fill="#e89152"/><text><tspan x="0" y="-1">samples = 70</tspan><tspan x="0" y="13">value = [97, 12]</tspan></text></g>
<g id="n111" class="nd" transform="translate(4463.5,630.5)"><rect x="-59.5" y="-18" width="119" height="36" rx="9" fill="#eba069"/><text><tspan x="0" y="-1">samples = 203</tspan><tspan x="0" y="13">value = [268, 65]</tspan></text></g>
<g id="n112" class="nd" transform="translate(4593,630.5)"><rect x="-52" y="-18" width="104" height="36" rx="9" fill="#e78d4c"/><text><tspan x="0" y="-1">samples = 50</tspan><tspan x="0" y="13">value = [74, 7]</tspan></text></g>
<g id="n113" class="nd" transform="translate(4746.5,630.5)"><rect x="-59.5" y="-18" width="119" height="36" rx="9" fill="#e89254"/><text><tspan x="0" y="-1">samples = 89</tspan><tspan x="0" y="13">value = [127, 17]</tspan></text></g>
<g id="n114" class="nd" transform="translate(4880,630.5)"><rect x="-56" y="-18" width="112" height="36" rx="9" fill="#eda774"/><text><tspan x="0" y="-1">samples = 68</tspan><tspan x="0" y="13">value = [80, 24]</tspan></text></g>
<g id="n115" class="nd" transform="translate(5255.5,630.5)"><rect x="-59.5" y="-18" width="119" height="36" rx="9" fill="#e89050"/><text><tspan x="0" y="-1">samples = 98</tspan><tspan x="0" y="13">value = [135, 16]</tspan></text></g>
<g id="n116" class="nd" transform="translate(5389.5,630.5)"><rect x="-55.5" y="-18" width="111" height="36" rx="9" fill="#e78946"/><text><tspan x="0" y="-1">samples = 81</tspan><tspan x="0" y="13">value = [125, 8]</tspan></text></g>
<g id="n117" class="nd" transform="translate(5540.5,630.5)"><rect x="-55.5" y="-18" width="111" height="36" rx="9" fill="#eb9e66"/><text><tspan x="0" y="-1">samples = 63</tspan><tspan x="0" y="13">value = [79, 18]</tspan></text></g>
<g id="n118" class="nd" transform="translate(5674.5,630.5)"><rect x="-58.5" y="-18" width="117" height="36" rx="9" fill="#e88e4d"/><text><tspan x="0" y="-1">samples = 85</tspan><tspan x="0" y="13">value = [117, 12]</tspan></text></g>
<g id="n119" class="nd" transform="translate(228,716.5)"><rect x="-88" y="-25.5" width="176" height="51" rx="9" fill="#f8decc"/><text><tspan x="0" y="-8.5">JavadocParagraph &lt;= 0.5</tspan><tspan x="0" y="5.8">samples = 4814</tspan><tspan x="0" y="20">value = [4383, 3253]</tspan></text></g>
<g id="n120" class="nd" transform="translate(387.5,716.5)"><rect x="-50.5" y="-18" width="101" height="36" rx="9" fill="#e88d4c"/><text><tspan x="0" y="-1">samples = 51</tspan><tspan x="0" y="13">value = [72, 7]</tspan></text></g>
<g id="n121" class="nd" transform="translate(858,716.5)"><rect x="-55" y="-18" width="110" height="36" rx="9" fill="#eca26d"/><text><tspan x="0" y="-1">samples = 59</tspan><tspan x="0" y="13">value = [72, 19]</tspan></text></g>
<g id="n122" class="nd" transform="translate(988.5,716.5)"><rect x="-55.5" y="-18" width="111" height="36" rx="9" fill="#eb9f69"/><text><tspan x="0" y="-1">samples = 70</tspan><tspan x="0" y="13">value = [91, 22]</tspan></text></g>
<g id="n123" class="nd" transform="translate(1172.5,716.5)"><rect x="-59.5" y="-18" width="119" height="36" rx="9" fill="#e9965b"/><text><tspan x="0" y="-1">samples = 102</tspan><tspan x="0" y="13">value = [129, 22]</tspan></text></g>
<g id="n124" class="nd" transform="translate(1310,716.5)"><rect x="-59" y="-18" width="118" height="36" rx="9" fill="#ea995e"/><text><tspan x="0" y="-1">samples = 71</tspan><tspan x="0" y="13">value = [101, 19]</tspan></text></g>
<g id="n125" class="nd" transform="translate(1828,716.5)"><rect x="-67" y="-18" width="134" height="36" rx="9" fill="#eca471"/><text><tspan x="0" y="-1">samples = 1403</tspan><tspan x="0" y="13">value = [1761, 494]</tspan></text></g>
<g id="n126" class="nd" transform="translate(1970.5,716.5)"><rect x="-54.5" y="-18" width="109" height="36" rx="9" fill="#eca16c"/><text><tspan x="0" y="-1">samples = 55</tspan><tspan x="0" y="13">value = [70, 18]</tspan></text></g>
<g id="n127" class="nd" transform="translate(2123.5,716.5)"><rect x="-58.5" y="-18" width="117" height="36" rx="9" fill="#efb286"/><text><tspan x="0" y="-1">samples = 158</tspan><tspan x="0" y="13">value = [181, 70]</tspan></text></g>
<g id="n128" class="nd" transform="translate(2257.5,716.5)"><rect x="-54.5" y="-18" width="109" height="36" rx="9" fill="#eba06a"/><text><tspan x="0" y="-1">samples = 57</tspan><tspan x="0" y="13">value = [69, 17]</tspan></text></g>
<g id="n129" class="nd" transform="translate(3072.5,716.5)"><rect x="-81.5" y="-25.5" width="163" height="51" rx="9" fill="#eca572"/><text><tspan x="0" y="-8.5">TrailingComment &lt;= 0.5</tspan><tspan x="0" y="5.8">samples = 426</tspan><tspan x="0" y="20">value = [517, 149]</tspan></text></g>
<g id="n130" class="nd" transform="translate(3227.5,716.5)"><rect x="-54.5" y="-18" width="109" height="36" rx="9" fill="#ea985d"/><text><tspan x="0" y="-1">samples = 50</tspan><tspan x="0" y="13">value = [60, 11]</tspan></text></g>
<g id="n131" class="nd" transform="translate(150,802.5)"><rect x="-74" y="-25.5" width="148" height="51" rx="9" fill="#f7d8c2"/><text><tspan x="0" y="-8.5">NestedIfDepth &lt;= 0.5</tspan><tspan x="0" y="5.8">samples = 3820</tspan><tspan x="0" y="20">value = [3609, 2506]</tspan></text></g>
<g id="n132" class="nd" transform="translate(306,802.5)"><rect x="-63" y="-18" width="126" height="36" rx="9" fill="#fefbf8"/><text><tspan x="0" y="-1">samples = 994</tspan><tspan x="0" y="13">value = [774, 747]</tspan></text></g>
<g id="n133" class="nd" transform="translate(2999.5,802.5)"><rect x="-64.5" y="-25.5" width="129" height="51" rx="9" fill="#eeac7c"/><text><tspan x="0" y="-8.5">IllegalCatch &lt;= 0.5</tspan><tspan x="0" y="5.8">samples = 340</tspan><tspan x="0" y="20">value = [403, 137]</tspan></text></g>
<g id="n134" class="nd" transform="translate(3144,802.5)"><rect x="-58" y="-18" width="116" height="36" rx="9" fill="#e88e4e"/><text><tspan x="0" y="-1">samples = 86</tspan><tspan x="0" y="13">value = [114, 12]</tspan></text></g>
<g id="n135" class="nd" transform="translate(75.5,888.5)"><rect x="-71.5" y="-18" width="143" height="36" rx="9" fill="#f7dac5"/><text><tspan x="0" y="-1">samples = 3677</tspan><tspan x="0" y="13">value = [3442, 2432]</tspan></text></g>
<g id="n136" class="nd" transform="translate(225,888.5)"><rect x="-59" y="-18" width="118" height="36" rx="9" fill="#f1b991"/><text><tspan x="0" y="-1">samples = 143</tspan><tspan x="0" y="13">value = [167, 74]</tspan></text></g>
<g id="n137" class="nd" transform="translate(2929,888.5)"><rect x="-66" y="-25.5" width="132" height="51" rx="9" fill="#efb185"/><text><tspan x="0" y="-8.5">HiddenField &lt;= 0.5</tspan><tspan x="0" y="5.8">samples = 263</tspan><tspan x="0" y="20">value = [306, 117]</tspan></text></g>
<g id="n138" class="nd" transform="translate(3069.5,888.5)"><rect x="-54.5" y="-18" width="109" height="36" rx="9" fill="#ea9b62"/><text><tspan x="0" y="-1">samples = 77</tspan><tspan x="0" y="13">value = [97, 20]</tspan></text></g>
<g id="n139" class="nd" transform="translate(2859.5,967)"><rect x="-58.5" y="-18" width="117" height="36" rx="9" fill="#f0b68d"/><text><tspan x="0" y="-1">samples = 149</tspan><tspan x="0" y="13">value = [171, 72]</tspan></text></g>
<g id="n140" class="nd" transform="translate(2998.5,967)"><rect x="-57.5" y="-18" width="115" height="36" rx="9" fill="#eeab7b"/><text><tspan x="0" y="-1">samples = 114</tspan><tspan x="0" y="13">value = [135, 45]</tspan></text></g>
</svg>
